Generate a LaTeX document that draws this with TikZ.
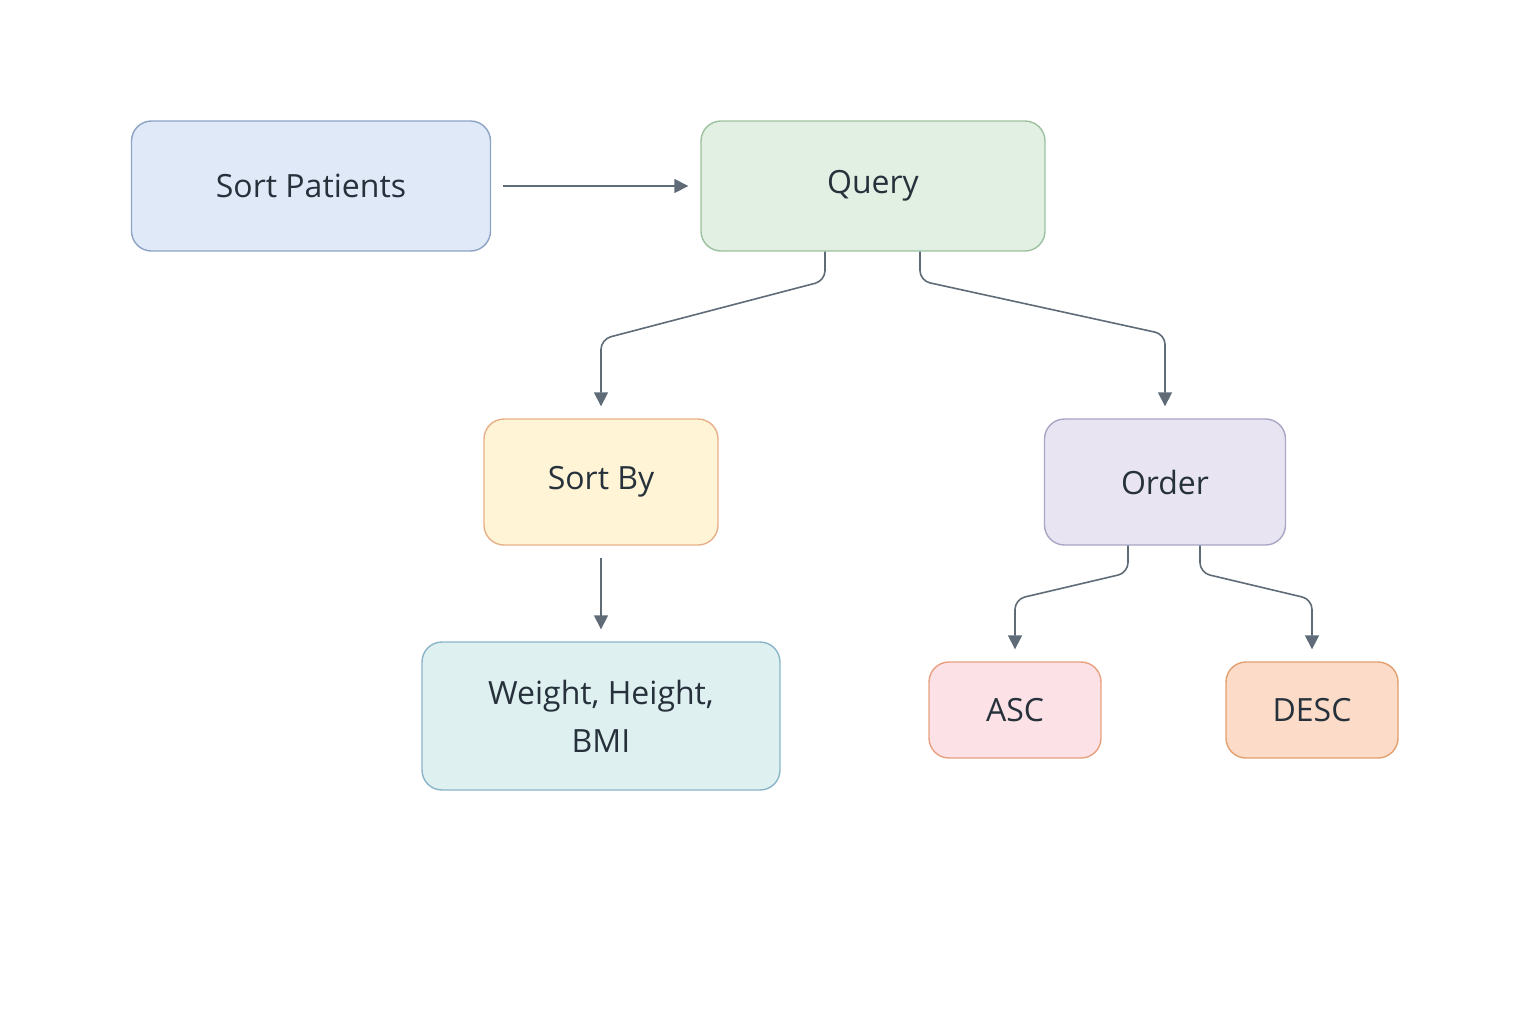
\documentclass[tikz,border=0pt]{standalone}
\usepackage{fontspec}
\setmainfont{Open Sans}
\usetikzlibrary{arrows.meta,calc}
\definecolor{linec}{HTML}{5F6B76}
\definecolor{txt}{HTML}{26313B}
\definecolor{bluef}{HTML}{E0E9F8}\definecolor{bluel}{HTML}{8DA3C4}
\definecolor{greenf}{HTML}{E1F0E2}\definecolor{greenl}{HTML}{9DC0A0}
\definecolor{yellowf}{HTML}{FFF4D6}\definecolor{yellowl}{HTML}{E8B088}
\definecolor{purplef}{HTML}{E8E4F1}\definecolor{purplel}{HTML}{A9A5C4}
\definecolor{tealf}{HTML}{DFF0F0}\definecolor{teall}{HTML}{8AB4C9}
\definecolor{pinkf}{HTML}{FCE2E6}\definecolor{pinkl}{HTML}{E8A080}
\definecolor{peachf}{HTML}{FCDCC8}\definecolor{peachl}{HTML}{E0A070}
\tikzset{
  box/.style={draw, rounded corners=10pt, line width=0.7pt, align=center, text=txt,
    font=\fontsize{16}{24}\selectfont, inner sep=0pt},
  conn/.style={draw=linec, line width=0.8pt, rounded corners=5pt, -{Triangle[length=7pt,width=7pt]}, shorten >=6pt}
}
\begin{document}
\begin{tikzpicture}[x=0.5pt,y=-0.5pt]
\useasboundingbox (0,0) rectangle (1535,1024);

\node[box, fill=bluef, draw=bluel, minimum width=179.5pt, minimum height=65pt] (patients) at (311,186) {Sort Patients};
\node[box, fill=greenf, draw=greenl, minimum width=172pt, minimum height=65pt] (query) at (873,186) {Query};
\node[box, fill=yellowf, draw=yellowl, minimum width=117pt, minimum height=63pt] (sortby) at (601,482) {Sort By};
\node[box, fill=purplef, draw=purplel, minimum width=120.5pt, minimum height=63pt] (order) at (1165,482) {Order};
\node[box, fill=tealf, draw=teall, minimum width=179pt, minimum height=74pt] (fields) at (601,716) {Weight, Height,\\BMI};
\node[box, fill=pinkf, draw=pinkl, minimum width=86pt, minimum height=48pt] (asc) at (1015,710) {ASC};
\node[box, fill=peachf, draw=peachl, minimum width=86pt, minimum height=48pt] (desc) at (1312,710) {DESC};

\draw[conn, shorten <=6pt] (patients) -- (query);
\draw[conn] ($(query.south)+(-48,0)$) -- ++(0,29) -- ($(sortby.north)+(0,-79)$) -- (sortby.north);
\draw[conn] ($(query.south)+(47,0)$) -- ++(0,29) -- ($(order.north)+(0,-84)$) -- (order.north);
\draw[conn, shorten <=6pt] (sortby) -- (fields);
\draw[conn] ($(order.south)+(-37,0)$) -- ++(0,27) -- ($(asc.north)+(0,-62)$) -- (asc.north);
\draw[conn] ($(order.south)+(35,0)$) -- ++(0,27) -- ($(desc.north)+(0,-62)$) -- (desc.north);

\end{tikzpicture}
\end{document}
